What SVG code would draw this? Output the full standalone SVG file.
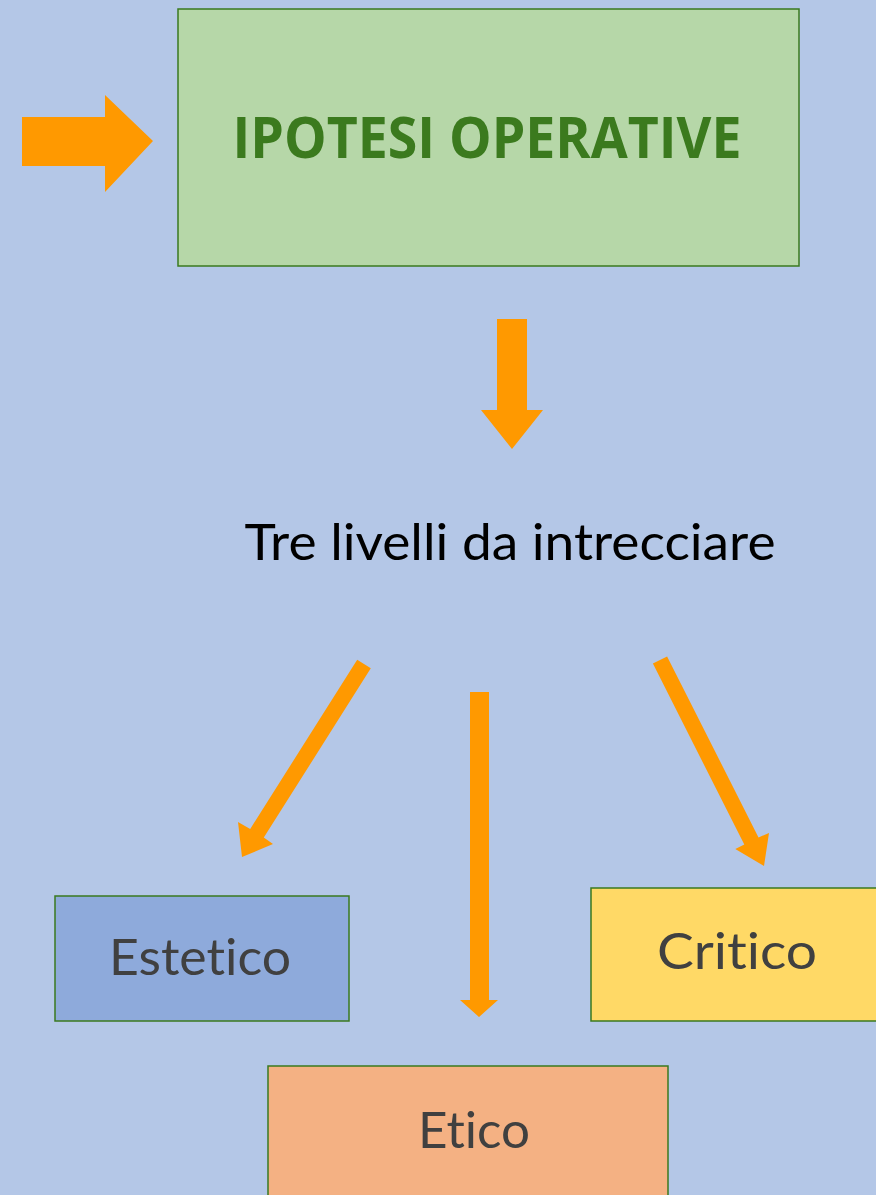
<svg xmlns="http://www.w3.org/2000/svg" width="876" height="1195" viewBox="0 0 876 1195">
<style>
.box{stroke:#3a7a1f;stroke-width:1.5}
.arrow{fill:#ff9900}
text{font-variant-ligatures:none;font-feature-settings:"liga" 0,"clig" 0}
.lbl{font-family:Lato,"Noto Sans",sans-serif;fill:#404040;font-size:50px;text-anchor:middle}
</style>
<rect width="876" height="1195" fill="#b4c7e7"/>
<g id="ipotesi">
<rect class="box" x="178" y="9" width="621" height="257" fill="#b6d7a8"/>
<text x="487" y="158" font-family="'Open Sans','Noto Sans',sans-serif" font-weight="bold" font-size="58" fill="#3b7a1e" text-anchor="middle" textLength="509" lengthAdjust="spacingAndGlyphs">IPOTESI OPERATIVE</text>
</g>
<g id="tre-livelli">
<text x="510" y="560" font-family="Lato,'Noto Sans',sans-serif" font-size="50" fill="#000000" text-anchor="middle" textLength="531" lengthAdjust="spacingAndGlyphs">Tre livelli da intrecciare</text>
</g>
<g id="estetico">
<rect class="box" x="55" y="896" width="294" height="125" fill="#8eaadb"/>
<text class="lbl" x="200" y="975" textLength="182" lengthAdjust="spacingAndGlyphs">Estetico</text>
</g>
<g id="critico">
<rect class="box" x="591" y="888" width="290" height="133" fill="#ffd966"/>
<text class="lbl" x="737" y="969" textLength="160" lengthAdjust="spacingAndGlyphs">Critico</text>
</g>
<g id="etico">
<rect class="box" x="268" y="1066" width="400" height="135" fill="#f4b183"/>
<text class="lbl" x="474" y="1148" textLength="112" lengthAdjust="spacingAndGlyphs">Etico</text>
</g>
<g id="connectors">
<polygon class="arrow" points="22,117 105,117 105,95 153,141 105,192 105,166 22,166"/>
<polygon class="arrow" points="497,319 527,319 527,410 543,410 512,449 481,410 497,410"/>
<polygon class="arrow" points="370.8,668.3 357.2,659.7 250.2,829 238,822 242,857 273,844 263.8,837.6"/>
<polygon class="arrow" points="470,692 489,692 489,1000 498,1000 479,1017 460,1000 470,1000"/>
<polygon class="arrow" points="667.1,656.4 652.9,663.6 744.3,844.6 735.3,849.1 764,866 769,833 758.5,837.4"/>
</g>
</svg>
